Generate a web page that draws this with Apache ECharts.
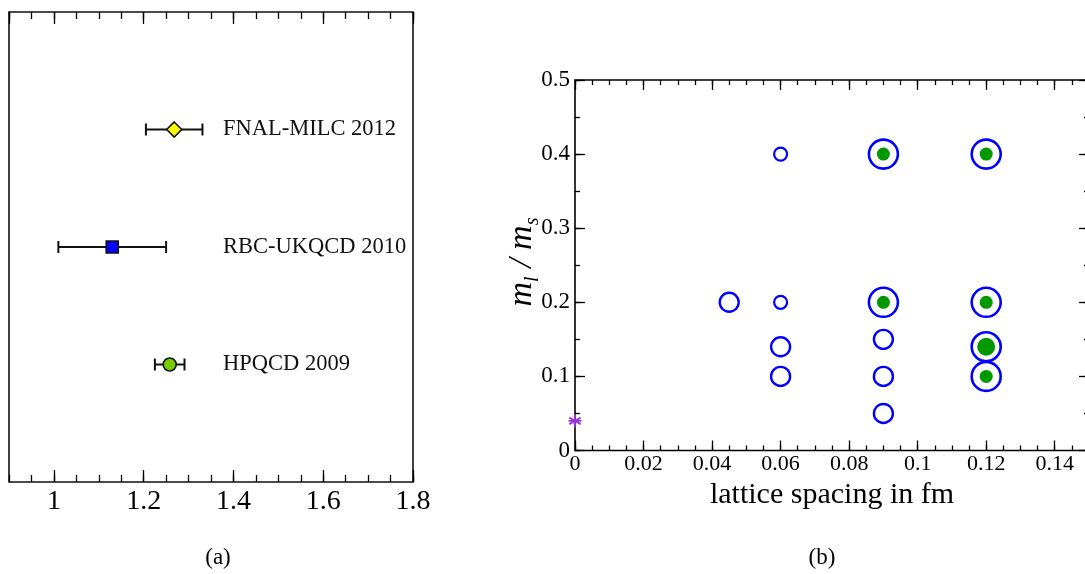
<!DOCTYPE html>
<html><head><meta charset="utf-8">
<script src="https://cdn.jsdelivr.net/npm/echarts@6/dist/echarts.min.js"></script>
<style>html,body{margin:0;padding:0;background:#fff}#c{width:1085px;height:574px}</style>
</head><body><div id="c"></div>
<script>
// ---- Panel (a): xi values with errors ----
const studies = ['FNAL-MILC 2012', 'RBC-UKQCD 2010', 'HPQCD 2009'];
const xiValues = [1.268, 1.13, 1.258];
const xiErrors = [0.063, 0.12, 0.033];
const studyRows = [3, 2, 1];

// ---- Panel (b): ensembles (lattice spacing fm, ml/ms) ----
const bigRings = [[0.09, 0.4], [0.12, 0.4], [0.09, 0.2], [0.12, 0.2], [0.12, 0.14], [0.12, 0.1]];
const greenDots = [[0.09, 0.4], [0.12, 0.4], [0.09, 0.2], [0.12, 0.2], [0.12, 0.1]];
const greenDotsLarge = [[0.12, 0.14]];
const mediumRings = [[0.045, 0.2], [0.06, 0.14], [0.06, 0.1], [0.09, 0.15], [0.09, 0.1], [0.09, 0.05]];
const smallRings = [[0.06, 0.4], [0.06, 0.2]];
const physicalPoint = [[0, 0.04]];

const SERIF = '"Liberation Serif", "Times New Roman", serif';
const chart = echarts.init(document.getElementById('c'), null, { renderer: 'canvas' });

const errData = studies.map((s, i) => [xiValues[i], studyRows[i], xiValues[i] - xiErrors[i], xiValues[i] + xiErrors[i], s]);
const markerStyles = [
  { symbol: 'diamond', size: 15, color: '#ffff00' },
  { symbol: 'rect', size: 12, color: '#0000ff' },
  { symbol: 'circle', size: 13, color: '#77cc00' }
];

function tickAxis(grid, pos, min, max, interval, len, extra) {
  const a = {
    type: 'value', gridIndex: grid, position: pos, min: min, max: max,
    axisLine: { show: false, onZero: false },
    axisTick: { show: true, inside: true, length: len, lineStyle: { color: '#000', width: 1.3 } },
    axisLabel: { show: false },
    splitLine: { show: false }
  };
  if (interval != null) a.interval = interval;
  return Object.assign(a, extra || {});
}

const option = {
  animation: false,
  backgroundColor: '#fff',
  grid: [
    { left: 9, top: 12, width: 404, height: 470, show: true, borderColor: '#111', borderWidth: 1.6,
      backgroundColor: 'transparent', outerBoundsMode: 'none', containLabel: false },
    { left: 575, top: 80, width: 514, height: 370.5, show: true, borderColor: '#000', borderWidth: 1.6,
      backgroundColor: 'transparent', outerBoundsMode: 'none', containLabel: false }
  ],
  xAxis: [
    tickAxis(0, 'bottom', 0.9, 1.8, null, 12, {
      splitNumber: 5,
      axisLabel: { show: true, showMinLabel: false, margin: 6, fontFamily: SERIF, fontSize: 28, color: '#000' }
    }),
    tickAxis(0, 'bottom', 0.9, 1.8, 0.05, 7),
    tickAxis(0, 'top', 0.9, 1.8, null, 12, { splitNumber: 5 }),
    tickAxis(0, 'top', 0.9, 1.8, 0.05, 7),
    tickAxis(1, 'bottom', 0, 0.15, 0.02, 10, {
      axisLabel: { show: true, showMaxLabel: false, margin: 3, fontFamily: SERIF, fontSize: 22, color: '#000' },
      name: 'lattice spacing in fm', nameLocation: 'middle', nameGap: 22,
      nameTextStyle: { fontFamily: SERIF, fontSize: 30, color: '#000', verticalAlign: 'top' }
    }),
    tickAxis(1, 'bottom', 0, 0.15, 0.005, 5),
    tickAxis(1, 'top', 0, 0.15, 0.02, 10),
    tickAxis(1, 'top', 0, 0.15, 0.005, 5)
  ],
  yAxis: [
    { type: 'value', gridIndex: 0, min: 0, max: 4, show: false, axisLine: { onZero: false } },
    tickAxis(1, 'left', 0, 0.5, 0.1, 10, {
      axisLabel: { show: true, margin: 5, fontFamily: SERIF, fontSize: 23, color: '#000' }
    }),
    tickAxis(1, 'left', 0, 0.5, 0.05, 5),
    tickAxis(1, 'right', 0, 0.5, 0.1, 10),
    tickAxis(1, 'right', 0, 0.5, 0.05, 5)
  ],
  series: [
    {
      type: 'custom', xAxisIndex: 0, yAxisIndex: 0, data: errData, z: 2,
      renderItem: function (params, api) {
        const yv = api.value(1);
        const pLo = api.coord([api.value(2), yv]);
        const pHi = api.coord([api.value(3), yv]);
        const cs = params.coordSys;
        const st = { stroke: '#111', lineWidth: 2 };
        return {
          type: 'group',
          children: [
            { type: 'line', shape: { x1: pLo[0], y1: pLo[1], x2: pHi[0], y2: pHi[1] }, style: st },
            { type: 'line', shape: { x1: pLo[0], y1: pLo[1] - 6, x2: pLo[0], y2: pLo[1] + 6 }, style: st },
            { type: 'line', shape: { x1: pHi[0], y1: pHi[1] - 6, x2: pHi[0], y2: pHi[1] + 6 }, style: st },
            { type: 'text', x: cs.x + 214, y: pLo[1],
              style: { text: api.value(4), font: '22.5px ' + SERIF, fill: '#111', align: 'left', verticalAlign: 'middle' } }
          ]
        };
      }
    },
    ...markerStyles.map((m, i) => ({
      type: 'scatter', xAxisIndex: 0, yAxisIndex: 0, z: 5,
      symbol: m.symbol, symbolSize: m.size,
      itemStyle: { color: m.color, borderColor: '#111', borderWidth: 1.6, opacity: 1 },
      data: [[xiValues[i], studyRows[i]]]
    })),
    // panel (b)
    { type: 'scatter', xAxisIndex: 4, yAxisIndex: 1, data: bigRings, symbol: 'circle', symbolSize: 29,
      itemStyle: { color: 'rgba(0,0,0,0)', borderColor: '#0000ff', borderWidth: 2.6, opacity: 1 }, z: 3 },
    { type: 'scatter', xAxisIndex: 4, yAxisIndex: 1, data: mediumRings, symbol: 'circle', symbolSize: 19,
      itemStyle: { color: 'rgba(0,0,0,0)', borderColor: '#0000ff', borderWidth: 2.4, opacity: 1 }, z: 3 },
    { type: 'scatter', xAxisIndex: 4, yAxisIndex: 1, data: smallRings, symbol: 'circle', symbolSize: 13,
      itemStyle: { color: 'rgba(0,0,0,0)', borderColor: '#0000ff', borderWidth: 2.2, opacity: 1 }, z: 3 },
    { type: 'scatter', xAxisIndex: 4, yAxisIndex: 1, data: greenDots, symbol: 'circle', symbolSize: 13,
      itemStyle: { color: '#009900', opacity: 1 }, z: 4 },
    { type: 'scatter', xAxisIndex: 4, yAxisIndex: 1, data: greenDotsLarge, symbol: 'circle', symbolSize: 18,
      itemStyle: { color: '#009900', opacity: 1 }, z: 4 },
    { type: 'scatter', xAxisIndex: 4, yAxisIndex: 1, data: physicalPoint,
      symbol: 'path://M0,-10L0,10M-8.66,-5L8.66,5M-8.66,5L8.66,-5M-10,0L10,0', symbolSize: 13,
      itemStyle: { color: 'rgba(0,0,0,0)', borderColor: '#9933dd', borderWidth: 1.8, opacity: 1 }, z: 6 }
  ],
  graphic: [
    { type: 'text', x: 522, y: 262, rotation: Math.PI / 2,
      style: {
        text: '{i|m}{s|l}{i| / m}{s|s}',
        align: 'center', verticalAlign: 'middle', fill: '#000',
        rich: {
          i: { fontFamily: SERIF, fontStyle: 'italic', fontSize: 34, lineHeight: 42, verticalAlign: 'middle', fill: '#000' },
          s: { fontFamily: SERIF, fontStyle: 'italic', fontSize: 20, lineHeight: 20, verticalAlign: 'bottom', fill: '#000' }
        }
      } },
    { type: 'text', x: 218, y: 558, style: { text: '(a)', font: '23px ' + SERIF, fill: '#000', align: 'center', verticalAlign: 'middle' } },
    { type: 'text', x: 822, y: 558, style: { text: '(b)', font: '23px ' + SERIF, fill: '#000', align: 'center', verticalAlign: 'middle' } }
  ]
};
chart.setOption(option);
</script>
</body></html>
